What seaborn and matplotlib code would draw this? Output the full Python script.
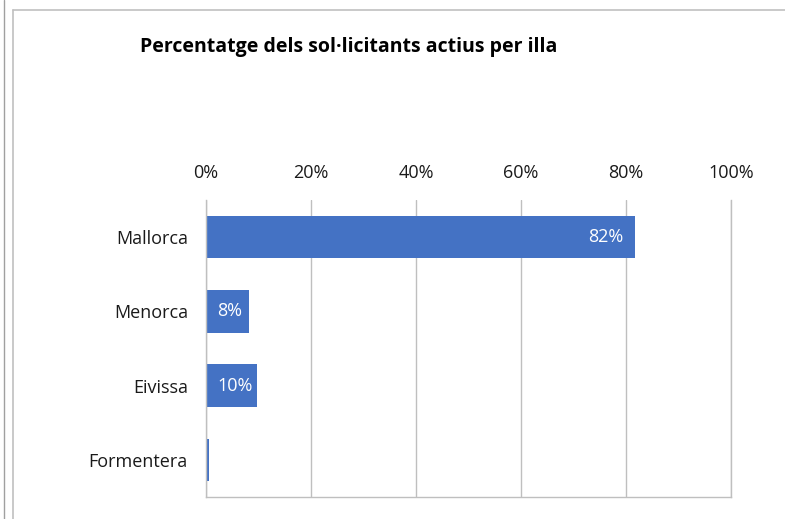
import matplotlib
matplotlib.use("Agg")
import matplotlib.pyplot as plt
import seaborn as sns
import pandas as pd
from matplotlib.lines import Line2D
from matplotlib.ticker import FuncFormatter

illes = ["Mallorca", "Menorca", "Eivissa", "Formentera"]
percent = [81.7, 8.1, 9.7, 0.5]
etiquetes = ["82%", "8%", "10%", ""]
ticks = [0, 20, 40, 60, 80, 100]
titol = "Percentatge dels sol·licitants actius per illa"

df = pd.DataFrame({"illa": illes, "pct": percent})

sns.set_theme(style="white")
plt.rcParams["font.family"] = ["Open Sans", "DejaVu Sans"]

fig = plt.figure(figsize=(7.85, 5.19), dpi=100)
ax = fig.add_axes([206/785, 1-497/519, (731-206)/785, (497-200)/519])

sns.barplot(data=df, x="pct", y="illa", orient="h", color="#4472C4",
            width=0.57, saturation=1, linewidth=0, ax=ax)

ax.set_xlim(0, 100)
ax.set_xticks(ticks)
ax.xaxis.set_major_formatter(FuncFormatter(lambda v, p: f"{int(v)}%"))
ax.xaxis.tick_top()
ax.xaxis.set_label_position("top")
ax.set_xlabel("")
ax.set_ylabel("")
ax.tick_params(axis="x", length=0, pad=13, labelsize=13, colors="#1a1a1a")
ax.tick_params(axis="y", length=0, pad=13, labelsize=13, colors="#1a1a1a")
ax.grid(axis="x", color="#bfbfbf", linewidth=1)
ax.set_axisbelow(True)
ax.spines["top"].set_visible(False)
for s in ["left", "bottom", "right"]:
    ax.spines[s].set_color("#bfbfbf")
    ax.spines[s].set_linewidth(1)

for i, (v, lab) in enumerate(zip(percent, etiquetes)):
    if not lab:
        continue
    if v >= 20:
        ax.annotate(lab, xy=(v, i), xytext=(-8, 0), textcoords="offset points",
                    ha="right", va="center", color="white", fontsize=13)
    else:
        ax.annotate(lab, xy=(0, i), xytext=(8, 0), textcoords="offset points",
                    ha="left", va="center", color="white", fontsize=13)

fig.text(140/785, 1-47/519, titol, ha="left", va="center",
         fontsize=14, fontweight="bold", color="#000000")

fig.add_artist(Line2D([13/785, 13/785], [0, 1-10/519], transform=fig.transFigure,
                      color="#c0c0c0", linewidth=1.2))
fig.add_artist(Line2D([13/785, 1], [1-10/519, 1-10/519], transform=fig.transFigure,
                      color="#c0c0c0", linewidth=1.2))
fig.add_artist(Line2D([4/785, 4/785], [0, 1], transform=fig.transFigure,
                      color="#a0a0a0", linewidth=1))

fig.savefig("out.png", dpi=100)
